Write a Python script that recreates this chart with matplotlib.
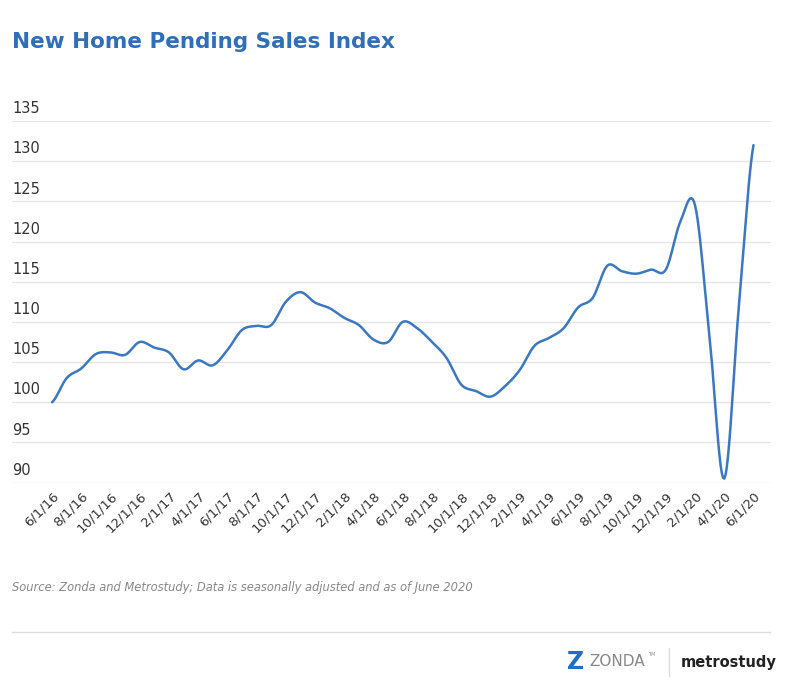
import numpy as np
import matplotlib.pyplot as plt

values = [100, 103, 104.2, 106, 106.2, 105.9, 107.5, 106.8, 106.2, 104.1, 105.2, 104.6,
          106.5, 109, 109.5, 109.6, 112.5, 113.7, 112.4, 111.7, 110.5, 109.6, 107.8, 107.5,
          110, 109.2, 107.5, 105.5, 102.2, 101.4, 100.7, 102, 104, 107, 108, 109.2,
          111.8, 113, 117, 116.3, 116, 116.5, 116.5, 122.5, 124.5, 108, 90.5, 112, 132]
tick_labels = ["6/1/16", "8/1/16", "10/1/16", "12/1/16", "2/1/17", "4/1/17", "6/1/17",
               "8/1/17", "10/1/17", "12/1/17", "2/1/18", "4/1/18", "6/1/18", "8/1/18",
               "10/1/18", "12/1/18", "2/1/19", "4/1/19", "6/1/19", "8/1/19", "10/1/19",
               "12/1/19", "2/1/20", "4/1/20", "6/1/20"]
y_ticks = [90, 95, 100, 105, 110, 115, 120, 125, 130, 135]

# Catmull-Rom smoothing for the drawn curve
def smooth(y, n=12):
    y = np.asarray(y, float)
    p = np.concatenate([[y[0]], y, [y[-1]]])
    xs, ys = [], []
    t = np.linspace(0, 1, n, endpoint=False)
    for i in range(len(y) - 1):
        p0, p1, p2, p3 = p[i], p[i + 1], p[i + 2], p[i + 3]
        seg = 0.5 * (2 * p1 + (-p0 + p2) * t + (2 * p0 - 5 * p1 + 4 * p2 - p3) * t**2
                     + (-p0 + 3 * p1 - 3 * p2 + p3) * t**3)
        xs.extend(i + t)
        ys.extend(seg)
    xs.append(len(y) - 1)
    ys.append(y[-1])
    return np.array(xs), np.array(ys)

fig = plt.figure(figsize=(7.99, 6.95), dpi=100)
ax = fig.add_axes([0.015, 1 - 483 / 695, 0.95, 362 / 695])
sx, sy = smooth(values)
ax.plot(sx, sy, color="#3a78c2", lw=1.8, solid_capstyle="round", clip_on=False)
ax.set_xlim(-2.74, 49.2)
ax.set_ylim(89.95, 135)
ax.set_yticks(y_ticks)
ax.set_yticklabels([])
ax.tick_params(length=0)
for v in y_ticks:
    ax.text(-2.74, v + 0.6, str(v), fontsize=10.5, color="#333333", va="bottom", ha="left")
ax.grid(axis="y", color="#e6e6e6", lw=1)
ax.set_axisbelow(True)
for s in ax.spines.values():
    s.set_visible(False)
ax.set_xticks(range(0, 49, 2))
ax.set_xticklabels(tick_labels, rotation=45, ha="right", rotation_mode="anchor",
                   fontsize=9.5, color="#333333")
ax.tick_params(axis="x", pad=5)

fig.text(12 / 799, 1 - 42 / 695, "New Home Pending Sales Index", fontsize=15.5,
         fontweight="bold", color="#2f6fb8", va="center")
fig.text(12 / 799, 1 - 588 / 695,
         "Source: Zonda and Metrostudy; Data is seasonally adjusted and as of June 2020",
         fontsize=8.3, style="italic", color="#888888", va="center")
fig.add_artist(plt.Line2D([12 / 799, 770 / 799], [1 - 632 / 695] * 2, color="#dddddd", lw=1))
fig.text(567 / 799, 1 - 662 / 695, "Z", fontsize=17, fontweight="bold", color="#1f6fc9", va="center")
fig.text(589 / 799, 1 - 662 / 695, "ZONDA", fontsize=11, color="#888888", va="center")
fig.text(648 / 799, 1 - 654 / 695, "TM", fontsize=3.5, color="#888888", va="center")
fig.add_artist(plt.Line2D([669 / 799] * 2, [1 - 648 / 695, 1 - 676 / 695], color="#dddddd", lw=1))
fig.text(681 / 799, 1 - 663 / 695, "metrostudy", fontsize=10.5, fontweight="bold",
         color="#222222", va="center")

fig.savefig("out.png", dpi=100)
